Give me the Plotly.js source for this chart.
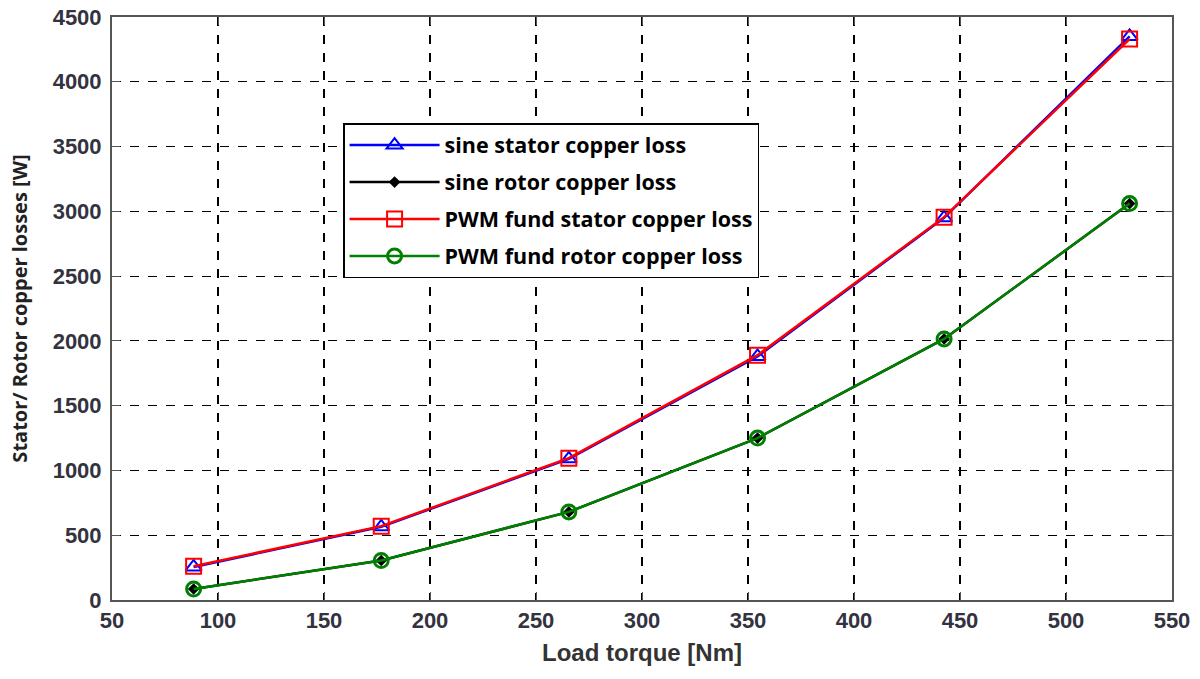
<!DOCTYPE html>
<html>
<head>
<meta charset="utf-8">
<script src="https://cdn.plot.ly/plotly-3.0.1.min.js"></script>
<style>html,body{margin:0;padding:0;background:#fff;}#chart{width:1200px;height:679px;}</style>
</head>
<body>
<div id="chart"></div>
<script>
const loadTorque = [88.5, 177, 265.5, 354.5, 442.5, 530];
const sineStator = [255, 565, 1090, 1880, 2950, 4350];
const sineRotor = [85, 305, 680, 1250, 2015, 3060];
const pwmStator = [260, 570, 1095, 1890, 2955, 4330];
const pwmRotor = [85, 305, 680, 1250, 2015, 3060];
const seriesNames = ["sine stator copper loss", "sine rotor copper loss", "PWM fund stator copper loss", "PWM fund rotor copper loss"];
const xTicks = [50, 100, 150, 200, 250, 300, 350, 400, 450, 500, 550];
const yTicks = [0, 500, 1000, 1500, 2000, 2500, 3000, 3500, 4000, 4500];

const traces = [
  {x: loadTorque, y: sineStator, name: seriesNames[0], legendgroup: 'a', mode: 'lines+markers',
   line: {color: '#0000ff', width: 2.5}, marker: {symbol: 'triangle-up-open', size: 14, color: '#0000ff', line: {width: 2}}},
  {x: loadTorque, y: sineRotor, name: seriesNames[1], legendgroup: 'b', mode: 'lines+markers',
   line: {color: '#000000', width: 2.5}, marker: {symbol: 'diamond', size: 9, color: '#000000'}},
  {x: loadTorque, y: pwmStator, name: seriesNames[2], legendgroup: 'c', mode: 'lines+markers',
   line: {color: '#ff0000', width: 2.5}, marker: {symbol: 'square-open', size: 15, color: '#ff0000', line: {width: 2}}},
  {x: loadTorque, y: pwmRotor, name: seriesNames[3], legendgroup: 'd', mode: 'lines+markers',
   line: {color: '#008000', width: 2.5}, marker: {symbol: 'circle-open', size: 14, color: '#008000', line: {width: 3}}}
];

const tickFont = {family: 'Liberation Sans, Arial, sans-serif', size: 22, color: '#333340', weight: 'bold'};

const layout = {
  width: 1200, height: 679,
  margin: {l: 112, r: 28, t: 17, b: 79},
  paper_bgcolor: '#ffffff', plot_bgcolor: '#ffffff',
  showlegend: true,
  legend: {
    x: 0.218, y: 0.818, xanchor: 'left', yanchor: 'top',
    bgcolor: '#ffffff', bordercolor: '#000000', borderwidth: 1.5,
    font: {family: 'Open Sans, Noto Sans, sans-serif', size: 21.5, color: '#000000', weight: 'bold'},
    itemwidth: 90, traceorder: 'grouped', tracegroupgap: 6
  },
  xaxis: {
    range: [50, 550], tickvals: xTicks, ticktext: xTicks.map(String),
    showgrid: true, gridcolor: '#000000', griddash: 'dash', gridwidth: 1.2,
    zeroline: false, showline: true, linecolor: '#555555', linewidth: 2, mirror: 'ticks',
    ticks: 'inside', ticklen: 8, tickcolor: '#555555',
    tickfont: tickFont,
    title: {text: 'Load torque [Nm]', standoff: 12,
      font: {family: 'Liberation Sans, Arial, sans-serif', size: 24, color: '#333333', weight: 'bold'}}
  },
  yaxis: {
    range: [0, 4500], tickvals: yTicks, ticktext: yTicks.map(String),
    showgrid: true, gridcolor: '#000000', griddash: 'dash', gridwidth: 1.2,
    zeroline: false, showline: true, linecolor: '#555555', linewidth: 2, mirror: 'ticks',
    ticks: 'inside', ticklen: 8, tickcolor: '#555555',
    tickfont: tickFont, ticklabelstandoff: 4,
    title: {text: 'Stator/ Rotor copper losses [W]', standoff: 20,
      font: {family: 'Open Sans, Noto Sans, sans-serif', size: 20, color: '#222222', weight: 'bold'}}
  }
};

Plotly.newPlot('chart', traces, layout, {displayModeBar: false, staticPlot: true});
</script>
</body>
</html>
